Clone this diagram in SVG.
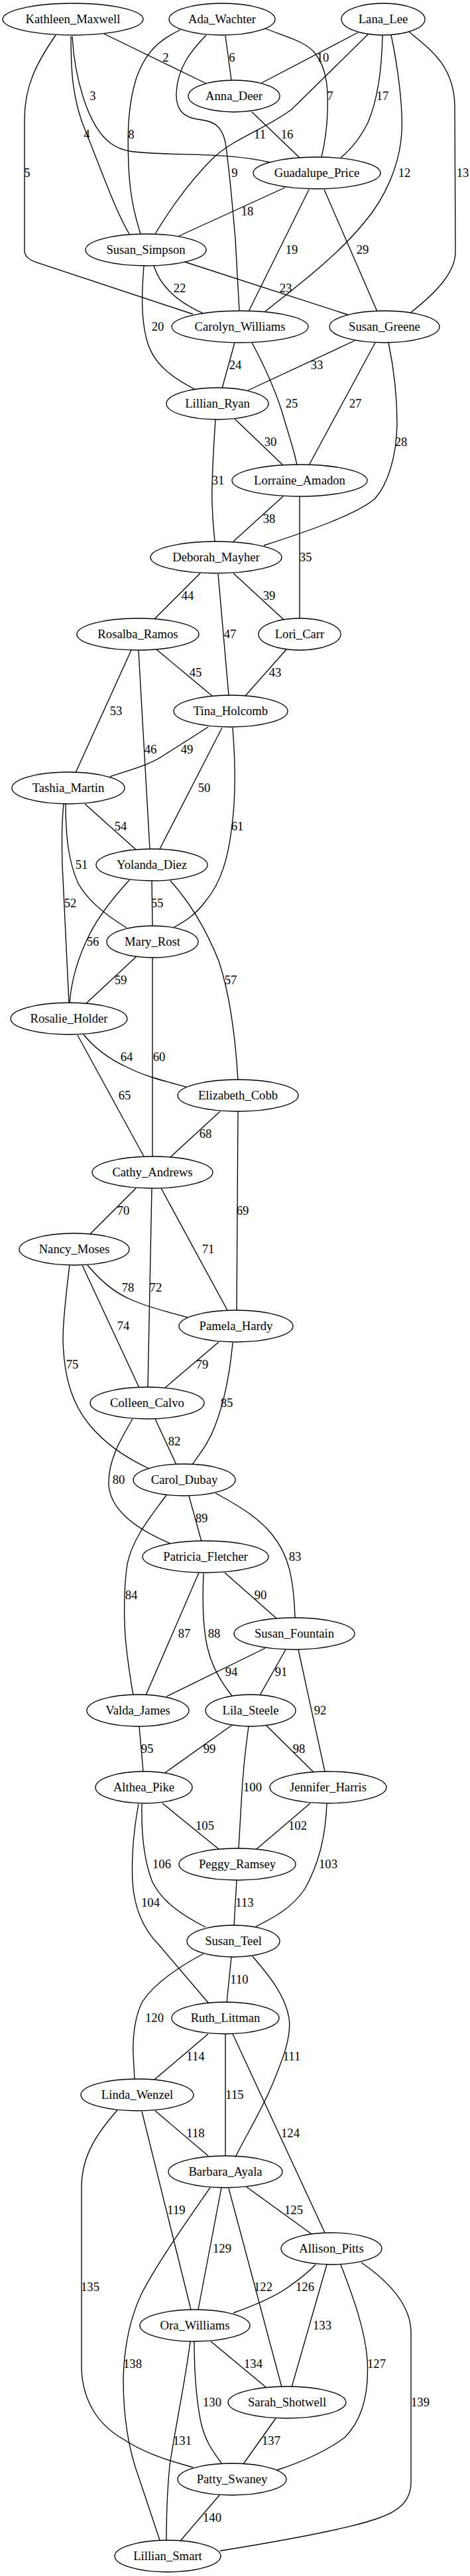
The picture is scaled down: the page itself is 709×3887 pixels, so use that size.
<svg xmlns="http://www.w3.org/2000/svg" width="709" height="3887" viewBox="0 0 709 3887">
<style>
.n ellipse{fill:none;stroke:#000;stroke-width:1.33}
.n text{font-family:"Liberation Serif","Times New Roman",serif;font-size:18.67px;text-anchor:middle;fill:#000}
#edges path{fill:none;stroke:#000;stroke-width:1.33}
#labels text{font-family:"Liberation Serif","Times New Roman",serif;font-size:18.67px;text-anchor:middle;fill:#000}
</style>
<rect width="709" height="3887" fill="#fff"/>
<g id="edges">
<path d="M157,51 L311,126"/>
<path d="M109,55 C112,110 130,190 168,217 C185,229 200,230 250,232 C300,234 360,233 407,245"/>
<path d="M107,55 C107,100 108,150 130,200 C150,250 175,320 195,353"/>
<path d="M84,53 C55,95 37,130 37,180 L37,378 C37,386 42,390 52,395 L291,474"/>
<path d="M340,54 L349,121"/>
<path d="M400,43 C430,55 460,62 475,80 C495,105 495,140 494,170 C493,200 489,220 485,237"/>
<path d="M272,45 C245,58 220,75 205,120 C193,160 192,200 194,250 C196,300 205,330 212,353"/>
<path d="M311,53 C290,75 268,100 266,140 C265,165 275,178 305,181 C325,184 335,192 340,215 C348,270 352,330 355,360 L361,469"/>
<path d="M540,49 L393,126"/>
<path d="M555,52 L440,165 C400,195 350,210 320,240 C290,270 260,310 234,353"/>
<path d="M590,53 C600,100 608,160 606,200 C603,250 580,300 550,335 C510,385 450,430 400,470"/>
<path d="M617,48 C650,75 685,100 686,160 L687,380 C687,410 660,440 619,472"/>
<path d="M380,169 L452,238"/>
<path d="M577,54 C576,100 570,150 555,185 C545,205 530,225 514,238"/>
<path d="M430,283 L268,357"/>
<path d="M466,286 L375,470"/>
<path d="M489,286 L569,470"/>
<path d="M217,401 C214,440 212,480 222,515 C232,550 260,570 295,588"/>
<path d="M232,401 C238,420 255,450 307,473"/>
<path d="M278,395 L525,475"/>
<path d="M354,517 L335,586"/>
<path d="M380,517 C395,545 412,580 425,620 C435,655 444,680 448,702"/>
<path d="M566,517 L466,702"/>
<path d="M586,517 C595,560 599,600 599,640 C598,690 585,730 566,752 C540,775 470,800 398,823"/>
<path d="M535,514 L372,590"/>
<path d="M354,632 L427,702"/>
<path d="M325,633 C322,680 319,720 320,760 C321,790 323,805 324,817"/>
<path d="M452,749 L452,933"/>
<path d="M427,749 L352,817"/>
<path d="M352,865 L428,935"/>
<path d="M302,865 L233,934"/>
<path d="M329,866 L345,1049"/>
<path d="M432,980 L370,1050"/>
<path d="M236,980 L320,1050"/>
<path d="M209,982 L226,1281"/>
<path d="M198,981 L114,1166"/>
<path d="M314,1097 L248,1139 C225,1155 195,1162 166,1172"/>
<path d="M335,1098 L241,1281"/>
<path d="M351,1098 C355,1150 356,1200 350,1245 C345,1290 335,1330 310,1360 C295,1380 280,1390 261,1400"/>
<path d="M128,1213 L205,1282"/>
<path d="M96,1213 C93,1240 93,1270 94,1305 L104,1513"/>
<path d="M99,1213 C99,1260 103,1300 118,1333 C130,1355 155,1378 191,1400"/>
<path d="M229,1329 L230,1397"/>
<path d="M195,1328 C175,1350 150,1380 135,1410 C120,1440 108,1475 105,1513"/>
<path d="M257,1329 C285,1360 310,1400 330,1450 C350,1510 356,1580 359,1630"/>
<path d="M205,1444 L130,1514"/>
<path d="M230,1445 L230,1745"/>
<path d="M126,1561 C140,1578 160,1596 191,1610 C220,1625 255,1633 281,1640"/>
<path d="M117,1562 L217,1745"/>
<path d="M332,1677 L257,1746"/>
<path d="M359,1677 L357,1977"/>
<path d="M205,1793 L136,1862"/>
<path d="M243,1793 L343,1977"/>
<path d="M229,1793 L223,2093"/>
<path d="M132,1909 C150,1930 170,1950 200,1962 C225,1973 255,1980 283,1988"/>
<path d="M124,1909 L210,2094"/>
<path d="M105,1909 C100,1950 95,1990 95,2020 C96,2080 110,2120 135,2150 C160,2180 190,2200 225,2216"/>
<path d="M330,2025 L249,2094"/>
<path d="M351,2026 C347,2070 340,2110 325,2150 C315,2178 300,2195 290,2210"/>
<path d="M234,2141 L266,2210"/>
<path d="M200,2141 C180,2175 163,2205 164,2240 C166,2275 200,2305 257,2329"/>
<path d="M251,2256 C230,2285 200,2320 192,2360 C186,2400 187,2450 190,2480 C193,2510 197,2535 201,2558"/>
<path d="M285,2257 L304,2326"/>
<path d="M325,2253 C360,2272 390,2290 410,2315 C435,2345 443,2380 445,2441"/>
<path d="M339,2373 L417,2442"/>
<path d="M300,2373 L220,2558"/>
<path d="M307,2374 C305,2420 306,2460 314,2490 C320,2515 335,2540 350,2559"/>
<path d="M400,2487 L251,2560"/>
<path d="M431,2489 L392,2558"/>
<path d="M450,2489 L490,2673"/>
<path d="M210,2605 L216,2673"/>
<path d="M350,2603 L249,2675"/>
<path d="M375,2605 C370,2640 366,2680 364,2720 L360,2789"/>
<path d="M402,2604 L473,2674"/>
<path d="M245,2721 L331,2791"/>
<path d="M468,2721 L386,2791"/>
<path d="M493,2722 C491,2770 482,2810 460,2850 C440,2880 410,2895 386,2907"/>
<path d="M214,2722 C213,2770 218,2810 230,2840 C245,2870 275,2890 310,2908"/>
<path d="M209,2722 C202,2760 198,2800 200,2840 C203,2885 220,2915 240,2935 L315,3023"/>
<path d="M357,2837 L353,2906"/>
<path d="M349,2953 L342,3022"/>
<path d="M307,2948 C275,2965 235,2990 215,3020 C202,3045 200,3080 201,3100 L203,3137"/>
<path d="M381,2952 C405,2980 430,3010 436,3045 C440,3075 425,3110 415,3135 C400,3175 375,3215 355,3255"/>
<path d="M314,3069 L233,3138"/>
<path d="M340,3069 L340,3253"/>
<path d="M351,3069 L490,3369"/>
<path d="M234,3185 L314,3253"/>
<path d="M214,3186 L288,3485"/>
<path d="M177,3184 C150,3215 123,3250 123,3300 L123,3575 C125,3625 150,3660 185,3680 C215,3700 250,3712 291,3723"/>
<path d="M372,3300 L470,3371"/>
<path d="M334,3301 L299,3485"/>
<path d="M317,3301 C290,3340 240,3410 214,3460 C195,3500 187,3545 186,3590 C186,3650 195,3700 210,3740 L241,3833"/>
<path d="M345,3302 L425,3602"/>
<path d="M476,3417 C462,3432 448,3442 432,3453 C410,3468 380,3480 352,3490"/>
<path d="M493,3417 L440,3602"/>
<path d="M514,3417 C530,3460 550,3510 554,3560 C557,3610 548,3650 520,3678 C490,3700 455,3715 418,3727"/>
<path d="M545,3414 C590,3445 620,3480 620,3520 L620,3745 C620,3775 600,3790 570,3800 C520,3818 400,3838 332,3849"/>
<path d="M293,3533 C293,3580 296,3620 303,3655 C310,3685 322,3700 335,3718"/>
<path d="M287,3533 C280,3590 265,3660 256,3720 C252,3760 251,3800 251,3833"/>
<path d="M318,3533 L401,3602"/>
<path d="M416,3649 L367,3718"/>
<path d="M331,3765 L272,3834"/>
</g>
<g id="labels">
<text x="250" y="93">2</text>
<text x="140" y="151">3</text>
<text x="131" y="209">4</text>
<text x="41" y="267">5</text>
<text x="350" y="93">6</text>
<text x="498" y="151">7</text>
<text x="198" y="209">8</text>
<text x="354" y="267">9</text>
<text x="487" y="93">10</text>
<text x="392" y="209">11</text>
<text x="610" y="267">12</text>
<text x="698" y="267">13</text>
<text x="433" y="209">16</text>
<text x="577" y="151">17</text>
<text x="373" y="325">18</text>
<text x="440" y="383">19</text>
<text x="547" y="383">29</text>
<text x="238" y="499">20</text>
<text x="271" y="441">22</text>
<text x="431" y="441">23</text>
<text x="355" y="557">24</text>
<text x="440" y="615">25</text>
<text x="536" y="615">27</text>
<text x="605" y="673">28</text>
<text x="478" y="557">33</text>
<text x="408" y="673">30</text>
<text x="329" y="731">31</text>
<text x="461" y="847">35</text>
<text x="406" y="789">38</text>
<text x="406" y="905">39</text>
<text x="283" y="905">44</text>
<text x="347" y="963">47</text>
<text x="415" y="1021">43</text>
<text x="295" y="1021">45</text>
<text x="227" y="1137">46</text>
<text x="175" y="1079">53</text>
<text x="282" y="1137">49</text>
<text x="308" y="1195">50</text>
<text x="358" y="1253">61</text>
<text x="182" y="1253">54</text>
<text x="106" y="1369">52</text>
<text x="123" y="1311">51</text>
<text x="237" y="1369">55</text>
<text x="140" y="1427">56</text>
<text x="348" y="1485">57</text>
<text x="182" y="1485">59</text>
<text x="240" y="1601">60</text>
<text x="191" y="1601">64</text>
<text x="188" y="1659">65</text>
<text x="310" y="1717">68</text>
<text x="366" y="1833">69</text>
<text x="186" y="1833">70</text>
<text x="314" y="1891">71</text>
<text x="235" y="1949">72</text>
<text x="193" y="1949">78</text>
<text x="186" y="2007">74</text>
<text x="109" y="2065">75</text>
<text x="305" y="2065">79</text>
<text x="342" y="2123">85</text>
<text x="263" y="2181">82</text>
<text x="179" y="2239">80</text>
<text x="198" y="2413">84</text>
<text x="304" y="2297">89</text>
<text x="445" y="2355">83</text>
<text x="393" y="2413">90</text>
<text x="278" y="2471">87</text>
<text x="323" y="2471">88</text>
<text x="349" y="2529">94</text>
<text x="424" y="2529">91</text>
<text x="483" y="2587">92</text>
<text x="222" y="2645">95</text>
<text x="316" y="2645">99</text>
<text x="381" y="2703">100</text>
<text x="451" y="2645">98</text>
<text x="309" y="2761">105</text>
<text x="449" y="2761">102</text>
<text x="495" y="2819">103</text>
<text x="244" y="2819">106</text>
<text x="227" y="2877">104</text>
<text x="369" y="2877">113</text>
<text x="361" y="2993">110</text>
<text x="233" y="3051">120</text>
<text x="440" y="3109">111</text>
<text x="295" y="3109">114</text>
<text x="354" y="3167">115</text>
<text x="438" y="3225">124</text>
<text x="295" y="3225">118</text>
<text x="266" y="3341">119</text>
<text x="136" y="3457">135</text>
<text x="443" y="3341">125</text>
<text x="335" y="3399">129</text>
<text x="200" y="3573">138</text>
<text x="397" y="3457">122</text>
<text x="460" y="3457">126</text>
<text x="486" y="3515">133</text>
<text x="568" y="3573">127</text>
<text x="634" y="3631">139</text>
<text x="320" y="3631">130</text>
<text x="275" y="3689">131</text>
<text x="382" y="3573">134</text>
<text x="409" y="3689">137</text>
<text x="320" y="3805">140</text>
</g>
<g id="Kathleen_Maxwell" class="n"><ellipse cx="110" cy="29" rx="106" ry="24"/><text x="110" y="35">Kathleen_Maxwell</text></g>
<g id="Ada_Wachter" class="n"><ellipse cx="335" cy="29" rx="80" ry="24"/><text x="335" y="35">Ada_Wachter</text></g>
<g id="Lana_Lee" class="n"><ellipse cx="578" cy="29" rx="63" ry="24"/><text x="578" y="35">Lana_Lee</text></g>
<g id="Anna_Deer" class="n"><ellipse cx="353" cy="145" rx="69" ry="24"/><text x="353" y="151">Anna_Deer</text></g>
<g id="Guadalupe_Price" class="n"><ellipse cx="478" cy="261" rx="96" ry="24"/><text x="478" y="267">Guadalupe_Price</text></g>
<g id="Susan_Simpson" class="n"><ellipse cx="220" cy="377" rx="91" ry="24"/><text x="220" y="383">Susan_Simpson</text></g>
<g id="Carolyn_Williams" class="n"><ellipse cx="362" cy="493" rx="103" ry="24"/><text x="362" y="499">Carolyn_Williams</text></g>
<g id="Susan_Greene" class="n"><ellipse cx="580" cy="493" rx="83" ry="24"/><text x="580" y="499">Susan_Greene</text></g>
<g id="Lillian_Ryan" class="n"><ellipse cx="328" cy="609" rx="77" ry="24"/><text x="328" y="615">Lillian_Ryan</text></g>
<g id="Lorraine_Amadon" class="n"><ellipse cx="452" cy="725" rx="102" ry="24"/><text x="452" y="731">Lorraine_Amadon</text></g>
<g id="Deborah_Mayher" class="n"><ellipse cx="326" cy="841" rx="99" ry="24"/><text x="326" y="847">Deborah_Mayher</text></g>
<g id="Rosalba_Ramos" class="n"><ellipse cx="208" cy="957" rx="92" ry="24"/><text x="208" y="963">Rosalba_Ramos</text></g>
<g id="Lori_Carr" class="n"><ellipse cx="452" cy="957" rx="62" ry="24"/><text x="452" y="963">Lori_Carr</text></g>
<g id="Tina_Holcomb" class="n"><ellipse cx="348" cy="1073" rx="86" ry="24"/><text x="348" y="1079">Tina_Holcomb</text></g>
<g id="Tashia_Martin" class="n"><ellipse cx="103" cy="1189" rx="85" ry="24"/><text x="103" y="1195">Tashia_Martin</text></g>
<g id="Yolanda_Diez" class="n"><ellipse cx="229" cy="1305" rx="84" ry="24"/><text x="229" y="1311">Yolanda_Diez</text></g>
<g id="Mary_Rost" class="n"><ellipse cx="230" cy="1421" rx="69" ry="24"/><text x="230" y="1427">Mary_Rost</text></g>
<g id="Rosalie_Holder" class="n"><ellipse cx="104" cy="1537" rx="88" ry="24"/><text x="104" y="1543">Rosalie_Holder</text></g>
<g id="Elizabeth_Cobb" class="n"><ellipse cx="359" cy="1653" rx="91" ry="24"/><text x="359" y="1659">Elizabeth_Cobb</text></g>
<g id="Cathy_Andrews" class="n"><ellipse cx="230" cy="1769" rx="91" ry="24"/><text x="230" y="1775">Cathy_Andrews</text></g>
<g id="Nancy_Moses" class="n"><ellipse cx="112" cy="1885" rx="83" ry="24"/><text x="112" y="1891">Nancy_Moses</text></g>
<g id="Pamela_Hardy" class="n"><ellipse cx="356" cy="2001" rx="86" ry="24"/><text x="356" y="2007">Pamela_Hardy</text></g>
<g id="Colleen_Calvo" class="n"><ellipse cx="222" cy="2117" rx="86" ry="24"/><text x="222" y="2123">Colleen_Calvo</text></g>
<g id="Carol_Dubay" class="n"><ellipse cx="278" cy="2233" rx="77" ry="24"/><text x="278" y="2239">Carol_Dubay</text></g>
<g id="Patricia_Fletcher" class="n"><ellipse cx="310" cy="2349" rx="95" ry="24"/><text x="310" y="2355">Patricia_Fletcher</text></g>
<g id="Susan_Fountain" class="n"><ellipse cx="444" cy="2465" rx="91" ry="24"/><text x="444" y="2471">Susan_Fountain</text></g>
<g id="Valda_James" class="n"><ellipse cx="208" cy="2581" rx="77" ry="24"/><text x="208" y="2587">Valda_James</text></g>
<g id="Lila_Steele" class="n"><ellipse cx="378" cy="2581" rx="68" ry="24"/><text x="378" y="2587">Lila_Steele</text></g>
<g id="Althea_Pike" class="n"><ellipse cx="217" cy="2697" rx="73" ry="24"/><text x="217" y="2703">Althea_Pike</text></g>
<g id="Jennifer_Harris" class="n"><ellipse cx="495" cy="2697" rx="88" ry="24"/><text x="495" y="2703">Jennifer_Harris</text></g>
<g id="Peggy_Ramsey" class="n"><ellipse cx="358" cy="2813" rx="88" ry="24"/><text x="358" y="2819">Peggy_Ramsey</text></g>
<g id="Susan_Teel" class="n"><ellipse cx="352" cy="2929" rx="70" ry="24"/><text x="352" y="2935">Susan_Teel</text></g>
<g id="Ruth_Littman" class="n"><ellipse cx="340" cy="3045" rx="81" ry="24"/><text x="340" y="3051">Ruth_Littman</text></g>
<g id="Linda_Wenzel" class="n"><ellipse cx="207" cy="3161" rx="85" ry="24"/><text x="207" y="3167">Linda_Wenzel</text></g>
<g id="Barbara_Ayala" class="n"><ellipse cx="340" cy="3277" rx="86" ry="24"/><text x="340" y="3283">Barbara_Ayala</text></g>
<g id="Allison_Pitts" class="n"><ellipse cx="500" cy="3393" rx="76" ry="24"/><text x="500" y="3399">Allison_Pitts</text></g>
<g id="Ora_Williams" class="n"><ellipse cx="294" cy="3509" rx="83" ry="24"/><text x="294" y="3515">Ora_Williams</text></g>
<g id="Sarah_Shotwell" class="n"><ellipse cx="433" cy="3625" rx="89" ry="24"/><text x="433" y="3631">Sarah_Shotwell</text></g>
<g id="Patty_Swaney" class="n"><ellipse cx="350" cy="3741" rx="82" ry="24"/><text x="350" y="3747">Patty_Swaney</text></g>
<g id="Lillian_Smart" class="n"><ellipse cx="253" cy="3857" rx="80" ry="24"/><text x="253" y="3863">Lillian_Smart</text></g>
</svg>
